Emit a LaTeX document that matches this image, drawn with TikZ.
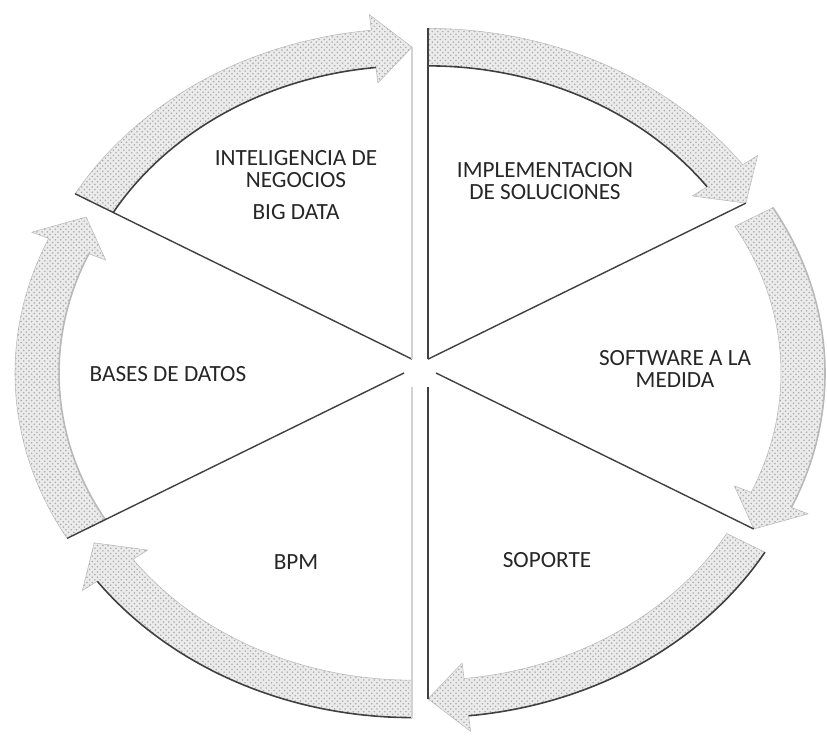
\documentclass[tikz,border=0pt]{standalone}
\usepackage{fontspec}
\setmainfont{Carlito}
\usetikzlibrary{calc, patterns}

\begin{document}
\begin{tikzpicture}[
    x=0.2mm, y=0.2mm,
    lbl/.style={align=center, font=\fontsize{13.2}{12.6}\selectfont, inner sep=0pt, text=black!85},
    band/.style={fill=gray!16, draw=gray!55, line width=0.3pt, postaction={pattern=crosshatch dots, pattern color=gray!65}},
    rim/.style={line width=0.9pt},
    sideline/.style={line width=0.8pt}]
  \useasboundingbox (0,0) rectangle (827,738);
  \coordinate (hub) at (420,365);
  % bisector / start edge / end edge / dark rim radius / rim colour
  \foreach \a/\sc/\ec/\rr/\rc in {120/black!75/gray!35/0.94/black!75, 60/black!75/black!75/0.94/black!75,
      0/none/black!75/1.06/gray!55, -60/none/black!75/1.06/black!75,
      -120/gray!35/none/1.06/black!75, 180/black!75/none/0.94/gray!55} {
    \pgfmathsetmacro\s{\a+30}
    \pgfmathsetmacro\e{\a-30}
    \pgfmathsetmacro\b{\a-24}
    \begin{scope}[shift={($(hub)+(\a:16)$)}, xscale=367, yscale=312]
      \path[band] (\s:0.94) arc[start angle=\s, end angle=\b, radius=0.94] -- (\b:0.89) -- (\e:1)
        -- (\b:1.11) -- (\b:1.06) arc[start angle=\b, end angle=\s, radius=1.06] -- cycle;
      \draw[rim, \rc] (\s:\rr) arc[start angle=\s, end angle=\b, radius=\rr];
      \draw[sideline, draw=\sc] (0,0) -- (\s:1.06);
      \draw[sideline, draw=\ec] (0,0) -- (\e:1);
    \end{scope}
  }
  \node[lbl] (intel) at (296,553) {INTELIGENCIA DE\\NEGOCIOS\\[5.5pt]BIG DATA};
  \node[lbl] (impl) at (545,557) {IMPLEMENTACION\\DE SOLUCIONES};
  \node[lbl] (soft) at (675,369) {SOFTWARE A LA\\MEDIDA};
  \node[lbl] (soporte) at (547,178) {SOPORTE};
  \node[lbl] (bpm) at (296,176) {BPM};
  \node[lbl] (bases) at (168,364) {BASES DE DATOS};
\end{tikzpicture}
\end{document}
